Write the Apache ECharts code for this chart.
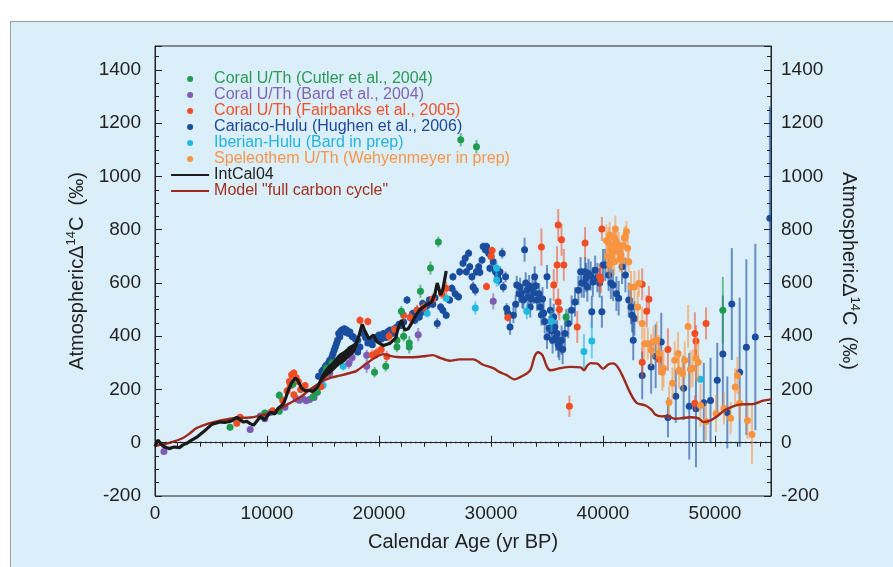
<!DOCTYPE html>
<html><head><meta charset="utf-8">
<script src="https://cdn.jsdelivr.net/npm/echarts@6.0.0/dist/echarts.min.js"></script>
<style>
html,body{margin:0;padding:0;background:#fff;width:893px;height:567px;overflow:hidden}
#panel{position:absolute;left:10px;top:21px;width:900px;height:560px;background:#dbeffa;border-left:1px solid #9c9c9c;border-top:1px solid #9c9c9c}
#chart{position:absolute;left:0;top:0;width:893px;height:567px}
</style></head><body><div id="panel"></div><div id="chart"></div>
<script>
// ---------- data ----------
const xTickLabels = [0, 10000, 20000, 30000, 40000, 50000];
const yTickLabels = [-200, 0, 200, 400, 600, 800, 1000, 1200, 1400];

const modelLine = [[0,-12],[800,-5],[1500,2],[2500,18],[3100,35],[3700,55],[4300,65],[4900,74],[5500,80],[6700,90],[7300,93],[8500,95],[9200,100],[10000,108],[11000,125],[12000,148],[13000,172],[14000,205],[15000,232],[15600,243],[16500,252],[17400,262],[18000,270],[18900,298],[19600,318],[20400,333],[21000,326],[21600,322],[22500,321],[23400,322],[24200,326],[24800,329],[25400,320],[26300,308],[27200,313],[28400,313],[29300,293],[30200,280],[30800,265],[31400,254],[32100,238],[32900,253],[33500,272],[33900,325],[34200,340],[34600,328],[35000,285],[35300,272],[36200,280],[37100,285],[38000,283],[38300,272],[38600,290],[38900,299],[39500,297],[40000,278],[40500,295],[40900,298],[41300,285],[41800,246],[42400,190],[43000,150],[43800,140],[44300,125],[44700,105],[45200,99],[45800,100],[46400,90],[47000,92],[47800,96],[48500,92],[49000,78],[49600,84],[50200,100],[50800,120],[51500,135],[52300,144],[53400,145],[54300,158],[55000,163]];

const intcal04 = [[0,-15],[250,10],[500,-2],[700,-12],[1000,-18],[1300,-22],[1700,-16],[2200,-18],[2500,-8],[2800,-3],[3200,8],[3700,20],[4000,30],[4300,40],[4700,55],[5100,70],[5500,74],[5800,78],[6200,76],[6700,80],[7000,86],[7300,96],[7600,85],[7900,78],[8200,80],[8500,72],[8800,66],[9100,82],[9400,98],[9800,86],[10100,104],[10300,115],[10700,108],[11000,130],[11300,140],[11500,150],[11700,172],[11900,198],[12200,225],[12500,242],[12700,238],[13100,205],[13400,195],[13700,197],[14100,193],[14500,208],[14800,235],[15300,265],[15800,285],[16400,310],[16900,322],[17300,340],[17800,355],[18100,385],[18500,445],[18700,424],[19100,390],[19500,405],[19800,380],[20400,365],[21000,374],[21500,394],[21700,430],[22000,460],[22300,423],[22600,428],[22900,448],[23200,472],[23600,498],[24200,517],[24700,528],[25000,560],[25200,600],[25500,555],[25700,575],[26000,645]];

// IntCal04 uncertainty envelope where it is visibly wide: [age, lower, upper]
const intcal04Band = [[14800,222,248],[15300,248,282],[15800,264,302],[16400,288,332],[16900,302,346],[17300,318,362],[17800,338,376],[18100,368,400]];

// [age, delta14C, error]
const cutler = [[6700,58,12],[9800,112,12],[11100,178,15],[11100,118,12],[12300,220,15],[14100,172,15],[14500,190,12],[15200,260,15],[15300,280,15],[15800,300,15],[19600,265,20],[20600,287,20],[21600,360,20],[21600,385,20],[22000,494,20],[22200,400,20],[22700,360,25],[22700,375,25],[23700,569,25],[24600,656,25],[25300,754,20],[27300,1138,25],[28700,1112,25],[36700,472,30],[50700,498,125]];

const bard = [[800,-33,10],[8500,50,12],[9400,100,12],[9800,90,12],[10300,114,12],[11600,133,12],[12600,165,15],[12900,160,12],[13200,166,12],[13500,158,12],[13800,162,12],[14200,170,12],[15600,260,15],[17300,298,20],[17600,320,20],[18900,329,20],[18900,287,25],[23500,406,25],[30200,531,30]];

const fairbanks = [[7300,73,12],[7600,96,12],[10500,120,12],[11400,160,15],[11800,195,15],[12000,230,15],[12200,255,15],[12400,262,15],[12600,245,15],[12100,215,12],[12800,230,12],[13000,200,12],[12400,180,12],[13400,215,12],[14200,195,12],[14800,210,12],[15200,255,15],[15500,270,15],[18300,460,15],[19000,455,15],[19400,330,20],[19800,338,20],[20200,350,15],[20700,324,20],[20900,400,20],[21400,425,15],[22200,479,20],[22800,470,20],[23400,498,20],[24000,510,20],[24800,540,20],[25600,560,20],[26000,580,25],[29600,587,15],[30000,700,15],[30100,722,15],[31500,470,15],[34500,735,70],[35600,592,60],[35900,668,70],[36000,818,60],[36300,762,60],[36500,668,60],[36000,529,50],[36100,500,40],[37000,137,40],[37700,435,60],[38400,750,60],[39700,623,50],[39800,612,50],[39900,803,45],[41000,742,60],[43500,302,60],[43500,595,60],[43900,494,60],[44100,539,50],[45000,314,60],[45800,350,80],[48200,148,30],[48200,410,80],[48300,382,60],[49200,448,60]];

const cariaco = [[14600,250,12],[14900,268,12],[15000,273,12],[15200,285,12],[15300,291,12],[15500,300,12],[15600,310,12],[15800,322,12],[15900,335,12],[16000,348,12],[16100,360,12],[16200,372,12],[16300,385,12],[16400,410,12],[16500,398,12],[16600,420,12],[16700,423,12],[16900,428,12],[17000,415,12],[17100,423,12],[17300,410,12],[17400,416,12],[17600,400,12],[17700,397,12],[17900,390,12],[18100,385,12],[18100,341,12],[18300,360,12],[18600,410,12],[18800,395,12],[19000,375,12],[19200,385,12],[19400,368,12],[19600,390,12],[19800,397,12],[20000,405,12],[20200,390,12],[20400,410,12],[20600,395,12],[20800,418,12],[21000,423,12],[21200,410,12],[21400,428,12],[21600,435,12],[21800,445,12],[22000,440,12],[22200,453,15],[22500,536,15],[22800,470,15],[23000,485,15],[23200,460,15],[23400,498,15],[23600,472,15],[23800,490,15],[23900,523,15],[24100,505,15],[24300,515,15],[24500,536,15],[24800,520,15],[25000,545,15],[25200,448,20],[25500,510,15],[25700,498,15],[26000,479,15],[26300,536,15],[26500,580,15],[26600,623,15],[26800,560,20],[27100,548,15],[27200,642,15],[27500,674,15],[27700,693,15],[27800,642,15],[28000,712,15],[28100,661,15],[28300,623,15],[28400,585,20],[28600,573,20],[28700,642,15],[28900,661,15],[29000,640,15],[29200,686,15],[29300,737,15],[29500,725,15],[29600,737,15],[29800,712,15],[29900,655,15],[30000,700,15],[30200,680,20],[30400,642,20],[30600,630,20],[30700,611,20],[30800,642,20],[31000,712,20],[31100,585,20],[31300,623,20],[31400,504,20],[31500,486,20],[31700,435,30],[32000,479,30],[32200,520,35],[32300,592,35],[32500,560,35],[32600,585,35],[32700,561,35],[32800,540,35],[32900,536,35],[33000,725,45],[33100,600,40],[33200,573,40],[33300,548,40],[33400,590,40],[33500,510,40],[33600,540,40],[33700,580,40],[33800,561,40],[33900,623,40],[34000,590,40],[34100,536,40],[34300,560,40],[34400,510,40],[34500,480,40],[34600,540,45],[34700,486,45],[34800,455,45],[35000,623,45],[35000,397,45],[35200,430,45],[35300,498,45],[35400,420,50],[35500,385,50],[35600,472,50],[35700,435,50],[35800,395,50],[35900,410,50],[36000,370,50],[36100,360,50],[36300,385,55],[36400,350,55],[36600,410,55],[36900,448,55],[37200,498,55],[37500,529,55],[37800,573,55],[38000,642,55],[38100,600,55],[38300,599,55],[38400,642,55],[38500,620,55],[38600,585,55],[38700,636,55],[38900,626,55],[39000,492,60],[39100,604,55],[39300,648,55],[39500,620,55],[39700,600,55],[39900,492,60],[40000,668,60],[40200,668,60],[40500,630,60],[40700,600,60],[40900,592,60],[41200,560,65],[41400,543,65],[41700,661,65],[42000,630,65],[42300,536,65],[42500,510,65],[42600,479,65],[42800,467,65],[42700,385,75],[43500,253,90],[44300,284,100],[44700,325,120],[45200,378,110],[45800,95,75],[46500,175,100],[47200,205,120],[47700,137,200],[48300,128,220],[49000,150,150],[49600,159,160],[50200,235,140],[50700,333,220],[51100,114,135],[51500,521,210],[52200,265,280],[52800,359,330],[53600,397,350],[54900,843,420]];

const iberian = [[15000,216,15],[16800,287,15],[24300,486,15],[26000,543,15],[28600,506,25],[30500,655,25],[30500,611,25],[33200,494,30],[35400,456,40],[38300,343,65],[39000,382,65],[48700,238,12]];

const speleothem = [[40300,760,60],[40400,700,60],[40500,750,60],[40600,780,50],[40600,670,50],[40700,725,50],[40800,700,50],[40900,740,50],[41000,770,40],[41000,680,50],[41100,803,50],[41200,755,50],[41300,720,50],[41400,742,50],[41500,690,50],[41600,705,50],[41700,686,50],[41800,740,50],[41900,770,40],[42000,774,40],[42100,793,40],[42200,730,40],[42300,680,40],[42500,585,60],[42800,585,60],[43100,510,60],[43200,599,50],[43500,448,60],[43700,372,60],[44000,372,60],[44300,348,60],[44500,378,60],[44800,385,70],[45000,335,70],[45300,265,70],[45400,280,70],[45900,152,60],[46200,223,60],[46400,310,70],[46700,335,80],[46800,272,70],[47100,260,70],[47300,310,70],[47600,437,80],[47800,276,70],[48000,280,70],[48300,317,80],[48500,302,70],[48700,140,80],[49200,80,70],[50100,110,70],[50800,129,60],[51400,92,60],[51800,209,70],[52000,253,70],[52200,148,60],[52900,84,70],[53300,31,110]];

// ---------- style ----------
const FONT = '"Liberation Sans", Arial, Helvetica, sans-serif';
const C = {
  cutler:'#1f9a50', bard:'#7d5cb3', fair:'#f04d25', cari:'#1b4d9e',
  iber:'#1fb8e0', spel:'#f89440', intcal:'#1a1a1a', model:'#9e2a1d'
};
const BAR = {
  cutler:'rgba(31,154,80,0.6)', bard:'rgba(125,92,179,0.6)', fair:'rgba(240,77,37,0.55)',
  cari:'rgba(27,77,158,0.6)', iber:'rgba(31,184,224,0.6)', spel:'rgba(248,148,64,0.6)'
};
const NAMES = {
  cutler:'Coral U/Th (Cutler et al., 2004)', bard:'Coral U/Th (Bard et al., 2004)',
  fair:'Coral U/Th (Fairbanks et al., 2005)', cari:'Cariaco-Hulu (Hughen et al., 2006)',
  iber:'Iberian-Hulu (Bard in prep)', spel:'Speleothem U/Th (Wehyenmeyer in prep)',
  intcal:'IntCal04', model:'Model "full carbon cycle"'
};

function errRender(dot, bar){
  return function(params, api){
    const x = api.value(0), y = api.value(1), e = api.value(2);
    const c = api.coord([x, y]), hi = api.coord([x, y + e]), lo = api.coord([x, y - e]);
    return {type:'group', children:[
      {type:'line', shape:{x1:c[0], y1:hi[1], x2:c[0], y2:lo[1]}, style:{stroke:bar, lineWidth:2}},
      {type:'circle', shape:{cx:c[0], cy:c[1], r:3.5}, style:{fill:dot}}
    ]};
  };
}
function errSeries(key, data){
  return {name:NAMES[key], type:'custom', coordinateSystem:'cartesian2d', clip:true,
    encode:{x:0, y:1}, itemStyle:{color:C[key]}, renderItem:errRender(C[key], BAR[key]), data:data};
}
function bandRender(params, api){
  if (params.dataIndex !== 0) return null;
  const up = intcal04Band.map(d => api.coord([d[0], d[2]]));
  const lo = intcal04Band.slice().reverse().map(d => api.coord([d[0], d[1]]));
  return {type:'polygon', shape:{points: up.concat(lo), smooth:0.3}, style:{fill:C.intcal}};
}

const tickCol = '#222';
const yName = '{a|Atmospheric\u0394}{s|14}{a|C  (\u2030)}';
const yNameStyle = {color:'#222', fontFamily:FONT, fontSize:20,
  rich:{a:{fontSize:20, fontFamily:FONT, color:'#222', lineHeight:24},
        s:{fontSize:13, fontFamily:FONT, color:'#222', lineHeight:13, verticalAlign:'top'}}};

function yAxisMajor(pos){
  return {type:'value', position:pos, min:-200, max:1490, interval:200,
    axisLine:{show:true, lineStyle:{color:tickCol, width:1}},
    axisTick:{show:true, inside:true, length:7, lineStyle:{color:tickCol, width:1}},
    axisLabel:{show:true, fontSize:19, fontFamily:FONT, color:'#222', margin: pos==='left'?14:10,
      formatter:v => yTickLabels.indexOf(v) >= 0 ? String(v) : ''},
    splitLine:{show:false},
    name:yName, nameLocation:'middle', nameGap:66, nameRotate: pos==='left'?90:-90,
    nameTextStyle:yNameStyle};
}
function yAxisMinor(pos){
  return {type:'value', position:pos, min:-200, max:1490, interval:50,
    axisLine:{show:false}, axisLabel:{show:false}, splitLine:{show:false},
    axisTick:{show:true, inside:true, length:4, lineStyle:{color:tickCol, width:1}}};
}

const option = {
  animation:false,
  backgroundColor:'transparent',
  grid:{left:155, right:122, top:46, bottom:71, show:true, borderColor:'#222', borderWidth:1, backgroundColor:'transparent'},
  legend:{orient:'vertical', left:170, top:71, padding:0, itemWidth:38, itemHeight:6, itemGap:0, selectedMode:false,
    textStyle:{fontSize:16, fontFamily:FONT, lineHeight:15.5},
    data:[
      {name:NAMES.cutler, icon:'circle', textStyle:{color:'#2a9a55'}},
      {name:NAMES.bard, icon:'circle', textStyle:{color:'#8064b4'}},
      {name:NAMES.fair, icon:'circle', textStyle:{color:'#f0502a'}},
      {name:NAMES.cari, icon:'circle', textStyle:{color:'#20489a'}},
      {name:NAMES.iber, icon:'circle', textStyle:{color:'#22b4de'}},
      {name:NAMES.spel, icon:'circle', textStyle:{color:'#f7954a'}},
      {name:NAMES.intcal, itemStyle:{opacity:0}, lineStyle:{width:2.2}, textStyle:{color:'#222'}},
      {name:NAMES.model, itemStyle:{opacity:0}, lineStyle:{width:2.2}, textStyle:{color:'#a0301f'}}
    ]},
  xAxis:[
    {type:'value', min:0, max:55000, interval:10000,
      axisLine:{show:true, lineStyle:{color:tickCol}},
      axisTick:{show:true, inside:true, length:7, lineStyle:{color:tickCol}},
      axisLabel:{fontSize:19, fontFamily:FONT, color:'#222', margin:8,
        formatter:v => xTickLabels.indexOf(v) >= 0 ? String(v) : ''},
      splitLine:{show:false},
      name:'Calendar Age (yr BP)', nameLocation:'middle', nameGap:36,
      nameTextStyle:{fontSize:20, fontFamily:FONT, color:'#222'}},
    {type:'value', min:0, max:55000, interval:2000,
      axisLine:{show:false}, axisLabel:{show:false}, splitLine:{show:false},
      axisTick:{show:true, inside:true, length:4, lineStyle:{color:tickCol}}}
  ],
  yAxis:[yAxisMajor('left'), yAxisMinor('left'), yAxisMajor('right'), yAxisMinor('right')],
  series:[
    {name:NAMES.model, type:'line', data:modelLine, symbol:'none', smooth:0.3,
      lineStyle:{color:C.model, width:2.4}, itemStyle:{color:C.model},
      markLine:{silent:true, symbol:['none','none'], label:{show:false},
        lineStyle:{color:'#222', type:[1.5,3.5], width:1.3}, data:[{yAxis:0}]}},
    errSeries('cari', cariaco),
    errSeries('iber', iberian),
    errSeries('bard', bard),
    errSeries('fair', fairbanks),
    errSeries('spel', speleothem),
    errSeries('cutler', cutler),
    {name:'IntCal04 envelope', type:'custom', coordinateSystem:'cartesian2d', clip:true,
      encode:{x:0, y:1}, renderItem:bandRender, data:intcal04Band, z:3},
    {name:NAMES.intcal, type:'line', data:intcal04, symbol:'none',
      lineStyle:{color:C.intcal, width:3.2}, itemStyle:{color:C.intcal}, z:3}
  ]
};
const chart = echarts.init(document.getElementById('chart'), null, {renderer:'canvas'});
chart.setOption(option);
</script></body></html>
